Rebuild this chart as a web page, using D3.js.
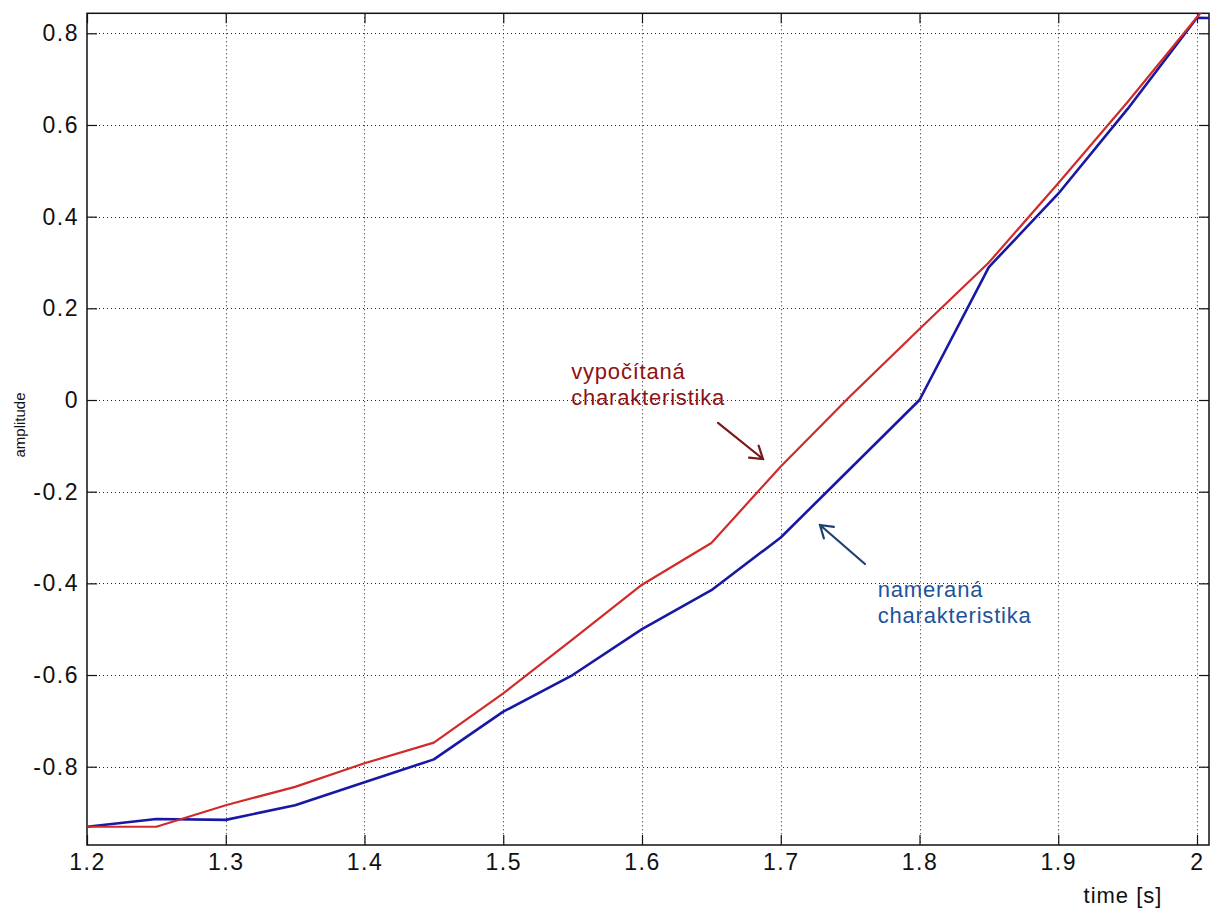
<!DOCTYPE html>
<html>
<head>
<meta charset="utf-8">
<script src="https://cdn.jsdelivr.net/npm/d3@7"></script>
<style>
  html, body { margin: 0; padding: 0; background: #fff; }
  svg { display: block; }
  text { font-family: "Liberation Sans", Arial, sans-serif; }
</style>
</head>
<body>
<svg id="chart" width="1212" height="908"></svg>
<script>
// sample times [s]
const times = [1.2, 1.25, 1.3, 1.35, 1.4, 1.45, 1.5, 1.55, 1.6, 1.65, 1.7, 1.75, 1.8, 1.85, 1.9, 1.95, 2.0, 2.05];
// measured response (nameraná charakteristika)
const measured = [-0.931, -0.914, -0.916, -0.884, -0.834, -0.784, -0.68, -0.60, -0.50, -0.415, -0.30, -0.15, 0.0, 0.29, 0.45, 0.635, 0.834, 0.83];
// computed response (vypočítaná charakteristika)
const computed = [-0.931, -0.931, -0.884, -0.844, -0.7925, -0.7475, -0.64, -0.522, -0.403, -0.312, -0.145, 0.008, 0.155, 0.30, 0.473, 0.65, 0.835, 1.02];

const xTicks = [1.2, 1.3, 1.4, 1.5, 1.6, 1.7, 1.8, 1.9, 2.0];
const xTickLabels = ["1.2", "1.3", "1.4", "1.5", "1.6", "1.7", "1.8", "1.9", "2"];
const yTicks = [-0.8, -0.6, -0.4, -0.2, 0, 0.2, 0.4, 0.6, 0.8];
const yTickLabels = ["-0.8", "-0.6", "-0.4", "-0.2", "0", "0.2", "0.4", "0.6", "0.8"];

(function () {
const svg = d3.select("#chart");
const pLeft = 87, pRight = 1209, pTop = 13.3, pBottom = 845;

const x = d3.scaleLinear().domain([1.2, 2.0]).range([87, 1197]);
const y = d3.scaleLinear().domain([0.8, -0.8]).range([33.3, 766.7]);
x.domain([1.2, x.invert(pRight)]).range([pLeft, pRight]);
y.domain([y.invert(pTop), y.invert(pBottom)]).range([pTop, pBottom]);

svg.append("defs").append("clipPath").attr("id", "plotClip")
  .append("rect").attr("x", pLeft).attr("y", pTop)
  .attr("width", pRight - pLeft).attr("height", pBottom - pTop);

// dotted grid
const grid = svg.append("g").attr("stroke", "#222").attr("stroke-width", 1)
  .attr("stroke-dasharray", "1,3").attr("fill", "none");
grid.selectAll("line.vx").data(xTicks.slice(1)).join("line")
  .attr("x1", d => Math.round(x(d)) + 0.5).attr("x2", d => Math.round(x(d)) + 0.5)
  .attr("y1", pTop).attr("y2", pBottom);
grid.selectAll("line.hy").data(yTicks).join("line")
  .attr("y1", d => Math.round(y(d)) + 0.5).attr("y2", d => Math.round(y(d)) + 0.5)
  .attr("x1", pLeft).attr("x2", pRight);

// axes with inward ticks on every side
const tickLen = 10;
const axisStyle = g => {
  g.select(".domain").remove();
  g.selectAll(".tick line").attr("stroke", "#111").attr("stroke-width", 1.2);
  g.selectAll(".tick text").attr("fill", "#111").style("font-size", "23px").style("letter-spacing", "1.5px");
};
svg.append("g").attr("transform", `translate(0,${pBottom})`)
  .call(d3.axisBottom(x).tickValues(xTicks).tickSize(-tickLen).tickPadding(9)
    .tickFormat((d, i) => xTickLabels[i]))
  .call(axisStyle);
svg.append("g").attr("transform", `translate(0,${pTop})`)
  .call(d3.axisTop(x).tickValues(xTicks).tickSize(-tickLen).tickFormat(""))
  .call(axisStyle);
svg.append("g").attr("transform", `translate(${pLeft},0)`)
  .call(d3.axisLeft(y).tickValues(yTicks).tickSize(-tickLen).tickPadding(8)
    .tickFormat((d, i) => yTickLabels[i]))
  .call(axisStyle);
svg.append("g").attr("transform", `translate(${pRight},0)`)
  .call(d3.axisRight(y).tickValues(yTicks).tickSize(-tickLen).tickFormat(""))
  .call(axisStyle);

// frame
svg.append("rect").attr("x", pLeft).attr("y", pTop)
  .attr("width", pRight - pLeft).attr("height", pBottom - pTop)
  .attr("fill", "none").attr("stroke", "#111").attr("stroke-width", 1.5);

// response curves
const plot = svg.append("g").attr("clip-path", "url(#plotClip)");
const line = d3.line().x(d => x(d[0])).y(d => y(d[1]));
plot.append("path").datum(times.map((t, i) => [t, measured[i]]))
  .attr("d", line).attr("fill", "none").attr("stroke", "#1818a4")
  .attr("stroke-width", 2.6).attr("stroke-linejoin", "round");
plot.append("path").datum(times.map((t, i) => [t, computed[i]]))
  .attr("d", line).attr("fill", "none").attr("stroke", "#d12a2a")
  .attr("stroke-width", 2.2).attr("stroke-linejoin", "round");

// axis labels
svg.append("text").attr("x", 1123).attr("y", 903).attr("text-anchor", "middle")
  .style("font-size", "22px").style("letter-spacing", "1px").attr("fill", "#111")
  .text("time [s]");
svg.append("text").attr("transform", "translate(25,425) rotate(-90)")
  .attr("text-anchor", "middle").style("font-size", "15px").attr("fill", "#111")
  .text("amplitude");

// annotations: label position, arrow tail and arrow tip in data units
const annotations = [
  { lines: ["vypočítaná", "charakteristika"], at: [1.549, 0.046],
    tail: [1.6548, -0.050], tip: [1.6872, -0.1287], text: "#8e1212", arrow: "#7a1818" },
  { lines: ["nameraná", "charakteristika"], at: [1.7699, -0.4297],
    tail: [1.7607, -0.3577], tip: [1.7283, -0.2727], text: "#1f5398", arrow: "#1e3f70" }
];
annotations.forEach(a => {
  const t = svg.append("text").attr("x", x(a.at[0])).attr("y", y(a.at[1]))
    .style("font-size", "22px").style("letter-spacing", "0.8px").attr("fill", a.text);
  a.lines.forEach((s, i) => t.append("tspan").attr("x", x(a.at[0])).attr("dy", i ? 26 : 0).text(s));
  const tx = x(a.tail[0]), ty = y(a.tail[1]), px = x(a.tip[0]), py = y(a.tip[1]);
  const back = Math.atan2(ty - py, tx - px), len = 14, spread = 33 * Math.PI / 180;
  const barb = s => [px + len * Math.cos(back + s), py + len * Math.sin(back + s)];
  const b1 = barb(spread), b2 = barb(-spread);
  svg.append("path")
    .attr("d", `M${tx},${ty}L${px},${py}M${b1[0]},${b1[1]}L${px},${py}L${b2[0]},${b2[1]}`)
    .attr("fill", "none").attr("stroke", a.arrow).attr("stroke-width", 2.2)
    .attr("stroke-linecap", "round");
});
})();
</script>
</body>
</html>
